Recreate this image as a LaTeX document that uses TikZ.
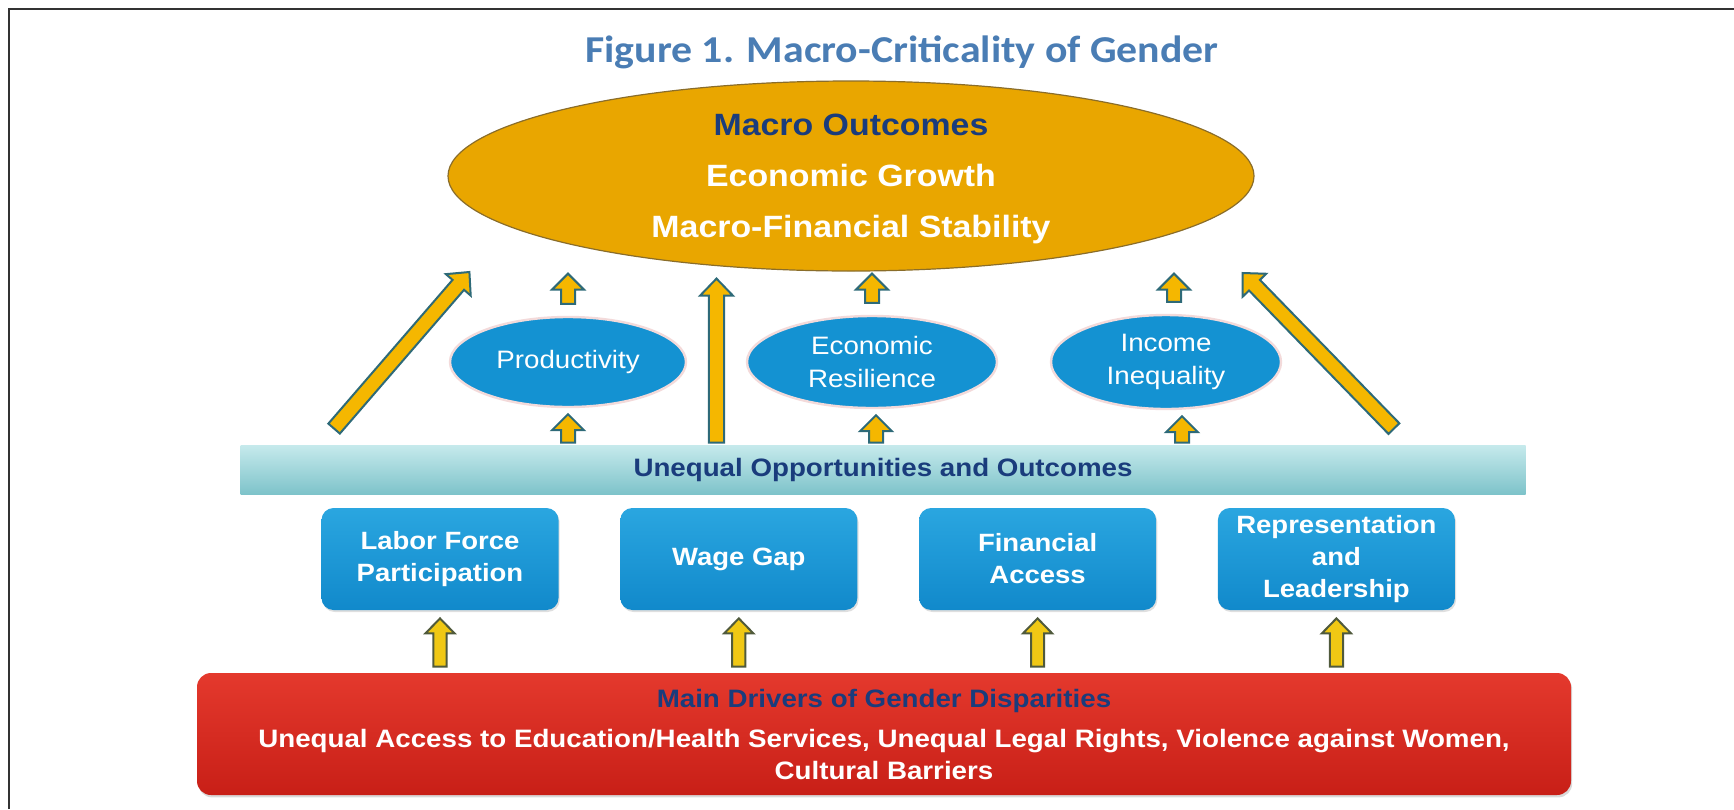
\documentclass[tikz,border=0pt]{standalone}
\usepackage{fontspec}
\setmainfont{Liberation Sans}[FakeStretch=1.1]
\newfontfamily\titlefont{Carlito}[FakeStretch=1.1]
\usepackage{tikz}
\usetikzlibrary{positioning, shapes.geometric, calc, shadows}

\definecolor{titleblue}{HTML}{4A7DB4}
\definecolor{navy}{HTML}{1A3C7C}
\definecolor{gold}{HTML}{E9A600}
\definecolor{goldedge}{HTML}{8A6D2A}
\definecolor{skyblue}{HTML}{1492D2}
\definecolor{halo}{HTML}{F3DADA}
\definecolor{barTop}{HTML}{C6EAEC}
\definecolor{barBot}{HTML}{7EC3CA}
\definecolor{boxTop}{HTML}{2AA6E0}
\definecolor{boxBot}{HTML}{1189CB}
\definecolor{redTop}{HTML}{E4392D}
\definecolor{redBot}{HTML}{C81F17}
\definecolor{arrfill}{HTML}{F5B700}
\definecolor{arredge}{HTML}{2E6A78}
\definecolor{lowfill}{HTML}{F0C814}
\definecolor{lowedge}{HTML}{505A3C}

\tikzset{
  fa shaft/.store in=\fashaft, fa head/.store in=\fahead, fa len/.store in=\falen,
  fa shaft=3.5pt, fa head=8pt, fa len=8pt
}

% fat block arrow from #2 to #3
\newcommand{\fatarrow}[3][uparr]{%
  \path[#1] (#2) coordinate (fa-a) (#3) coordinate (fa-b)
    ($(fa-b)!\falen!(fa-a)$) coordinate (fa-c);
  \draw[#1] ($(fa-a)!\fashaft!90:(fa-b)$) -- ($(fa-c)!\fashaft!90:(fa-b)$)
    -- ($(fa-c)!\fahead!90:(fa-b)$) -- (fa-b) -- ($(fa-c)!\fahead!-90:(fa-b)$)
    -- ($(fa-c)!\fashaft!-90:(fa-b)$) -- ($(fa-a)!\fashaft!-90:(fa-b)$) -- cycle;
}

\begin{document}
\begin{tikzpicture}[
    x=0.5pt, y=-0.5pt,
    outcome/.style={ellipse, inner sep=0pt, fill=gold, draw=goldedge, line width=0.6pt,
                    minimum width=403pt, minimum height=95pt, align=center, text=white,
                    text depth=0pt, font=\bfseries\fontsize{15.4}{25.5}\selectfont},
    channel/.style={ellipse, inner sep=0pt, fill=skyblue, draw=halo, line width=1.2pt,
                    minimum height=45pt, align=center, text=white,
                    font=\fontsize{12.6}{16.5}\selectfont},
    band/.style={minimum width=642.5pt, minimum height=24.5pt, top color=barTop,
                 bottom color=barBot, text=navy, font=\bfseries\fontsize{12.6}{15}\selectfont},
    gapbox/.style={rounded corners=6pt, minimum width=118.5pt, minimum height=51pt,
                   top color=boxTop, bottom color=boxBot, text=white, align=center,
                   font=\bfseries\fontsize{12.5}{16}\selectfont,
                   drop shadow={opacity=0.25, shadow xshift=0.6pt, shadow yshift=-1pt}},
    drivers/.style={rounded corners=7pt, minimum width=687pt, minimum height=61pt,
                    top color=redTop, bottom color=redBot, text=white, align=center,
                    font=\bfseries\fontsize{12.6}{16}\selectfont,
                    drop shadow={opacity=0.3, shadow xshift=0.6pt, shadow yshift=-1.2pt}},
    uparr/.style={fill=arrfill, draw=arredge, line width=1pt,
                  fa shaft=3.5pt, fa head=8pt, fa len=8pt},
    longarr/.style={uparr, fa shaft=3.8pt, fa head=8.2pt, fa len=8.5pt},
    lowarr/.style={fill=lowfill, draw=lowedge, line width=1pt,
                   fa shaft=3.3pt, fa head=7.3pt, fa len=7.5pt},
    frame/.style={draw=black!80, line width=1pt}
]
\useasboundingbox (0,0) rectangle (1734,809);
\draw[frame] (9,809) -- (9,9) -- (1734,9);

\node[font=\titlefont\bfseries\fontsize{19}{22}\selectfont, text=titleblue, anchor=base]
  (title) at (902,62) {Figure 1. Macro-Criticality of Gender};

\node[outcome] (outc) at (851,176)
  {\textcolor{navy}{Macro Outcomes}\\Economic Growth\\Macro-Financial Stability};

% channels
\node[channel, minimum width=118pt] (prod)  at (568,362)  {Productivity};
\node[channel, minimum width=125pt, minimum height=46pt] (resil) at (872,362) {Economic\\Resilience};
\node[channel, minimum width=115pt, minimum height=47pt] (ineq)  at (1166,362) {Income\\Inequality};

\node[band] (uneq) at (883,469.5) {Unequal Opportunities and Outcomes};

% gender gaps
\node[gapbox] (lfp) at (440,559) {Labor Force\\Participation};
\node[gapbox, right=30.5pt of lfp]  (wage) {Wage Gap};
\node[gapbox, right=30.5pt of wage] (fin)  {Financial\\Access};
\node[gapbox, right=30.5pt of fin]  (lead) {Representation\\and\\Leadership};

\node[drivers] (drv) at (884,734)
  {\textcolor{navy}{Main Drivers of Gender Disparities}\\[4pt]
   Unequal Access to Education/Health Services, Unequal Legal Rights, Violence against Women,\\
   Cultural Barriers};

% arrows
\foreach \n/\up/\dn in {prod/0pt/0pt, resil/0pt/2pt, ineq/4pt/8pt} {
  \fatarrow{[shift={(\up,6pt)}]\n.north}{[shift={(\up,-1pt)}]\n |- outc.south}
  \fatarrow{[shift={(\dn,1pt)}]uneq.north -| \n}{[shift={(\dn,-3pt)}]\n.south}
}
\coordinate (gap) at ($(prod.east)!0.5!(resil.west)$);
\fatarrow[longarr]{[yshift=1pt]uneq.north -| gap}{[yshift=-3.5pt]gap |- outc.south}
\fatarrow[longarr]{[shift={(47pt,8pt)}]uneq.north west}{[shift={(11pt,-48pt)}]outc.west}
\fatarrow[longarr]{[shift={(-66pt,8pt)}]uneq.north east}{[shift={(-6pt,-48.5pt)}]outc.east}
\foreach \n in {lfp, wage, fin, lead} {
  \fatarrow[lowarr]{[yshift=3pt]drv.north -| \n}{[yshift=-4pt]\n.south}
}
\end{tikzpicture}
\end{document}
